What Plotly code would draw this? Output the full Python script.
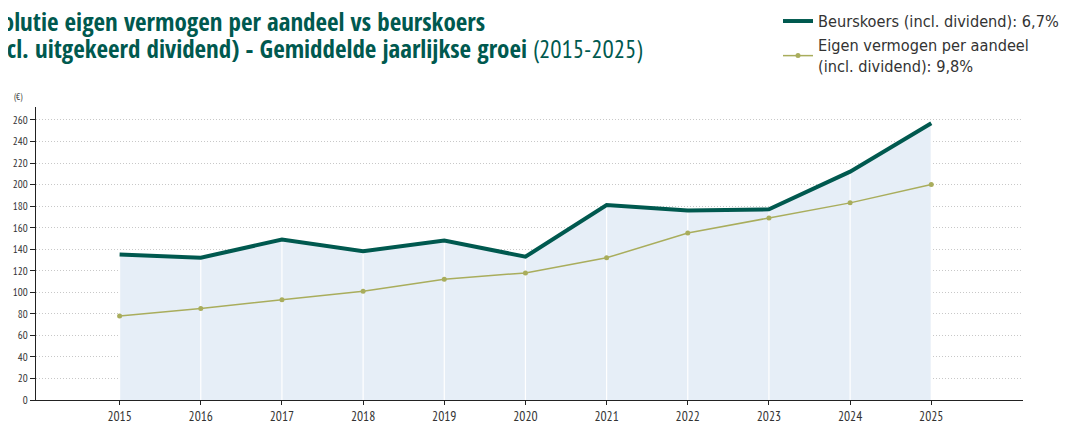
import plotly.graph_objects as go

years = [2015, 2016, 2017, 2018, 2019, 2020, 2021, 2022, 2023, 2024, 2025]
beurskoers = [135, 132, 149, 138, 148, 133, 181, 176, 177, 212, 257]
eigen_vermogen = [78, 85, 93, 101, 112, 118, 132, 155, 169, 183, 200]
y_ticks = list(range(0, 261, 20))

name_beurs = "Beurskoers (incl. dividend): 6,7%"
name_ev = "Eigen vermogen per aandeel<br>(incl. dividend): 9,8%"
title_line1 = "Evolutie eigen vermogen per aandeel vs beurskoers"
title_line2_bold = "(incl. uitgekeerd dividend) - Gemiddelde jaarlijkse groei"
title_line2_rest = "(2015-2025)"

TEAL = "#00594f"
OLIVE = "#a9ad5c"
FILL = "#e6eef7"
NARROW = "PT Sans Narrow, DejaVu Sans Condensed, sans-serif"
LEGEND_FONT = "DejaVu Sans Condensed, sans-serif"
TITLE_FONT = "Open Sans Condensed, DejaVu Sans Condensed, sans-serif"

# page is offset by the 8px body margin
OFF = 8
W, H = 1070 - OFF, 424 - OFF
PLOT_L, PLOT_R, PLOT_TOP, PLOT_BOTTOM = 36 - OFF, 1023 - OFF, 107 - OFF, 400 - OFF
PLOT_W, PLOT_H = PLOT_R - PLOT_L, PLOT_BOTTOM - PLOT_TOP


def ypaper(px):
    return (PLOT_BOTTOM - (px - OFF)) / PLOT_H


def xpaper(px):
    return ((px - OFF) - PLOT_L) / PLOT_W


fig = go.Figure()

fig.add_trace(go.Scatter(x=years, y=beurskoers, mode="lines", line=dict(width=0),
                         fill="tozeroy", fillcolor=FILL, showlegend=False, hoverinfo="skip"))

vx, vy = [], []
for yr, v in zip(years, beurskoers):
    vx += [yr, yr, None]
    vy += [0, v, None]
fig.add_trace(go.Scatter(x=vx, y=vy, mode="lines", line=dict(color="white", width=1.2),
                         showlegend=False, hoverinfo="skip"))

fig.add_trace(go.Scatter(x=years, y=beurskoers, mode="lines", name=name_beurs,
                         line=dict(color=TEAL, width=4)))
fig.add_trace(go.Scatter(x=years, y=eigen_vermogen, mode="lines+markers", name=name_ev,
                         line=dict(color=OLIVE, width=1.5),
                         marker=dict(color=OLIVE, size=5)))

fig.update_layout(
    width=W, height=H,
    margin=dict(l=PLOT_L, r=W - PLOT_R, t=PLOT_TOP, b=H - PLOT_BOTTOM, autoexpand=False),
    paper_bgcolor="white", plot_bgcolor="white",
    font=dict(family=NARROW, color="#333333", size=12),
    legend=dict(x=xpaper(778), xanchor="left", y=ypaper(4), yanchor="top",
                font=dict(size=16.2, color="#333333", family=LEGEND_FONT),
                bgcolor="rgba(0,0,0,0)", tracegroupgap=0, itemwidth=30),
)

fig.update_xaxes(range=[2013.97, 2026.13], tickmode="array", tickvals=years,
                 ticktext=[str(y) for y in years], showgrid=False, zeroline=False,
                 showline=True, linecolor="#222222", linewidth=1.2, automargin=False,
                 ticks="outside", ticklen=4, tickcolor="#222222",
                 tickfont=dict(size=13.5, color="#333333", family=NARROW))
fig.update_yaxes(range=[0, 272], tickmode="array", tickvals=y_ticks,
                 showgrid=True, gridcolor="#c8c8c8", griddash="1px,2px", gridwidth=1,
                 zeroline=False, showline=True, linecolor="#222222", linewidth=1.2, automargin=False,
                 ticks="outside", ticklen=5, tickcolor="#222222",
                 tickfont=dict(size=11, color="#333333", family=NARROW))

fig.add_annotation(xref="paper", yref="paper", x=xpaper(12), y=ypaper(89), xanchor="left", yanchor="top",
                   text="(€)", showarrow=False, font=dict(size=9, color="#333333", family=NARROW))

fig.add_annotation(xref="paper", yref="paper", x=xpaper(-22), y=ypaper(21), xanchor="left", yanchor="middle",
                   align="left", showarrow=False, text="<b>%s</b>" % title_line1,
                   font=dict(size=25, color=TEAL, family=TITLE_FONT))
fig.add_annotation(xref="paper", yref="paper", x=xpaper(-22), y=ypaper(48), xanchor="left", yanchor="middle",
                   align="left", showarrow=False,
                   text="<b>%s</b> <span style=\"font-family:'PT Sans Narrow';font-weight:normal\">%s</span>"
                        % (title_line2_bold, title_line2_rest),
                   font=dict(size=25, color=TEAL, family=TITLE_FONT))

fig.write_html("out.html")
